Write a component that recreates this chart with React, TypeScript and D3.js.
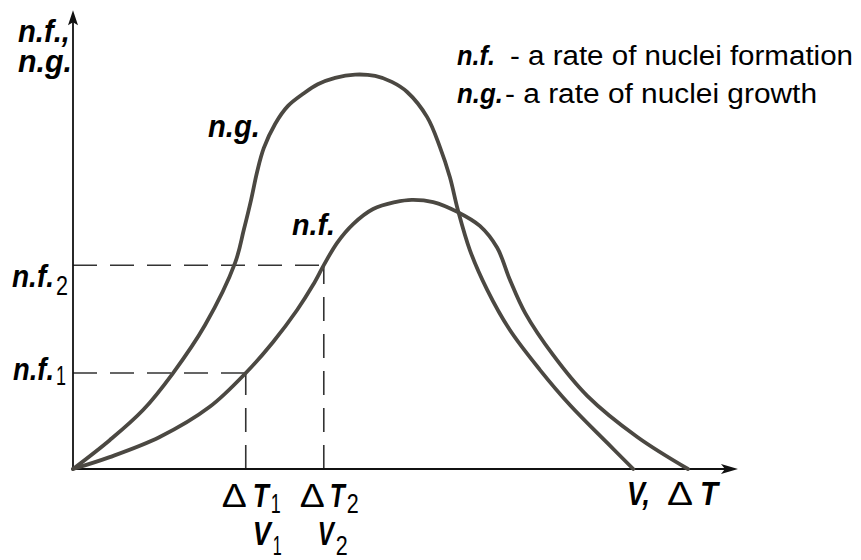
import * as d3 from 'd3'

// data units: x = undercooling (0..100), y = rate (0..100)
const NG_CURVE: [number, number][] = [
  [0, 0], [5.5, 6.3], [10.5, 12.9], [15.0, 21.0], [19.8, 31.5], [24.3, 45.1],
  [25.6, 52.3], [26.7, 58.9], [27.6, 65.0], [28.6, 70.2], [30.3, 75.5], [32.2, 79.4],
  [34.5, 82.1], [36.7, 84.2], [39.3, 85.6], [42.3, 86.3], [45.3, 86.0], [47.8, 84.7],
  [50.1, 82.5], [53.1, 77.0], [55.0, 70.5], [56.5, 63.9], [57.7, 56.7], [59.5, 47.9],
  [62.1, 39.2], [65.5, 30.4], [70.0, 21.7], [74.5, 14.0], [80.1, 5.7], [84.0, 0],
]

const NF_CURVE: [number, number][] = [
  [0, 0], [5.5, 2.6], [13.0, 7.0], [20.5, 13.6], [25.9, 21.0], [30.0, 27.8],
  [33.6, 34.8], [36.0, 40.3], [37.6, 44.6], [39.6, 49.5], [42.0, 53.6], [45.0, 56.9],
  [48.3, 58.4], [50.8, 58.9], [54.0, 58.4], [57.7, 56.2], [61.0, 53.2], [63.6, 48.4],
  [65.5, 41.4], [67.8, 34.1], [72.0, 24.9], [77.1, 16.0], [84.6, 7.0], [92.2, 0],
]

// marked points on n.f. curve
const DT1 = 25.9
const DT2 = 37.6
const NF1 = 21.0
const NF2 = 44.6

const X_AXIS_END = 99.7
const Y_AXIS_END = 100.4

const LEGEND = [
  { key: 'n.f.', keyLen: 38, text: '- a rate of nuclei formation', textX: 510, textLen: 343 },
  { key: 'n.g.', keyLen: 46, text: '- a rate of nuclei growth', textX: 505, textLen: 312 },
]

const FONT = 'Liberation Sans, Arial, sans-serif'
const CURVE_COLOR = '#4b4842'

function Txt({ x, y, len, size, bold = false, italic = false, children }: any) {
  return (
    <text
      x={x}
      y={y}
      textLength={len}
      lengthAdjust="spacingAndGlyphs"
      fontFamily={FONT}
      fontSize={size}
      fontWeight={bold ? 'bold' : 'normal'}
      fontStyle={italic ? 'italic' : 'normal'}
      fill="#000"
    >
      {children}
    </text>
  )
}

export default function App() {
  const W = 861
  const H = 560
  const x = d3.scaleLinear().domain([0, 100]).range([73, 740])
  const y = d3.scaleLinear().domain([0, 100]).range([469, 12])

  const line = d3.line<[number, number]>()
    .x((d) => x(d[0]))
    .y((d) => y(d[1]))
    .curve(d3.curveCatmullRom.alpha(0.5))

  const x0 = x(0)
  const y0 = y(0)
  const xEnd = x(X_AXIS_END)
  const yEnd = y(Y_AXIS_END)

  const dash = '24 13'

  return (
    <svg width={W} height={H} style={{ position: 'absolute', left: 0, top: 0, background: '#fff' }}>
      {/* guide lines */}
      <g stroke="#333" strokeWidth={1.6} strokeDasharray={dash} fill="none">
        <line x1={x0} x2={x(DT1)} y1={y(NF1)} y2={y(NF1)} />
        <line x1={x0} x2={x(DT2)} y1={y(NF2)} y2={y(NF2)} />
        <line x1={x(DT1)} x2={x(DT1)} y1={y0} y2={y(NF1)} />
        <line x1={x(DT2)} x2={x(DT2)} y1={y0} y2={y(NF2)} />
      </g>

      {/* axes */}
      <g stroke="#111" strokeWidth={1.8}>
        <line x1={x0} x2={x0} y1={y0} y2={yEnd + 8} />
        <line x1={x0} x2={xEnd - 8} y1={y0} y2={y0} />
      </g>
      <path d={`M${x0},${yEnd} L${x0 - 5},${yEnd + 15} L${x0},${yEnd + 12} L${x0 + 5},${yEnd + 15} Z`} fill="#111" />
      <path d={`M${xEnd},${y0} L${xEnd - 17},${y0 - 5} L${xEnd - 13},${y0} L${xEnd - 17},${y0 + 5} Z`} fill="#111" />

      {/* curves */}
      <path d={line(NG_CURVE) ?? ''} fill="none" stroke={CURVE_COLOR} strokeWidth={3.8} strokeLinecap="round" />
      <path d={line(NF_CURVE) ?? ''} fill="none" stroke={CURVE_COLOR} strokeWidth={3.8} strokeLinecap="round" />

      {/* y axis title */}
      <Txt x={18} y={42} len={52} size={31} bold italic>n.f.,</Txt>
      <Txt x={18} y={72} len={54} size={31} bold italic>n.g.</Txt>

      {/* y marks */}
      <Txt x={12} y={y(NF2) + 22} len={42} size={31} bold italic>n.f.</Txt>
      <Txt x={56} y={y(NF2) + 30} len={12} size={27}>2</Txt>
      <Txt x={13} y={y(NF1) + 7} len={41} size={31} bold italic>n.f.</Txt>
      <Txt x={56} y={y(NF1) + 12} len={10} size={27}>1</Txt>

      {/* x marks */}
      <Txt x={x(DT1) - 24} y={507} len={25} size={34}>Δ</Txt>
      <Txt x={x(DT1) + 7} y={507} len={16} size={33} bold italic>T</Txt>
      <Txt x={x(DT1) + 25} y={513} len={10} size={27}>1</Txt>
      <Txt x={x(DT1) + 7} y={545} len={18} size={33} bold italic>V</Txt>
      <Txt x={x(DT1) + 27} y={555} len={9} size={27}>1</Txt>

      <Txt x={x(DT2) - 24} y={507} len={25} size={34}>Δ</Txt>
      <Txt x={x(DT2) + 6} y={507} len={15} size={33} bold italic>T</Txt>
      <Txt x={x(DT2) + 23} y={513} len={12} size={27}>2</Txt>
      <Txt x={x(DT2) - 6} y={545} len={16} size={33} bold italic>V</Txt>
      <Txt x={x(DT2) + 12} y={555} len={12} size={27}>2</Txt>

      {/* x axis title */}
      <Txt x={627} y={505} len={23} size={33} bold italic>V,</Txt>
      <Txt x={667} y={505} len={26} size={34}>Δ</Txt>
      <Txt x={700} y={505} len={18} size={33} bold italic>T</Txt>

      {/* curve labels */}
      <Txt x={208} y={137} len={52} size={31} bold italic>n.g.</Txt>
      <Txt x={292} y={235} len={43} size={29} bold italic>n.f.</Txt>

      {/* legend */}
      {LEGEND.map((l, i) => (
        <g key={l.key}>
          <Txt x={457} y={65 + i * 38} len={l.keyLen} size={27} bold italic>{l.key}</Txt>
          <Txt x={l.textX} y={65 + i * 38} len={l.textLen} size={27}>{l.text}</Txt>
        </g>
      ))}
    </svg>
  )
}
